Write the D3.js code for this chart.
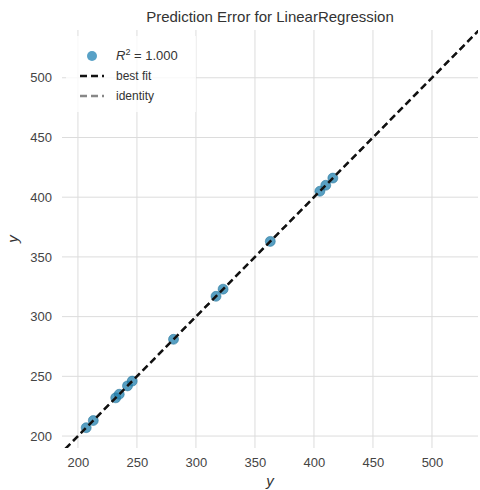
<!DOCTYPE html>
<html><head><meta charset="utf-8">
<script src="https://cdn.jsdelivr.net/npm/d3@7"></script>
<style>body{margin:0;background:#fff}text{font-family:"Liberation Sans",Arial,sans-serif}</style>
</head><body><div id="chart"></div>
<script>
const actual = [207, 213, 232, 235, 242, 246, 281, 317, 323, 363, 405, 410, 416];
const predicted = [207, 213, 232, 235, 242, 246, 281, 317, 323, 363, 405, 410, 416];
const ticks = [200, 250, 300, 350, 400, 450, 500];

const margin = { top: 30, right: 2, bottom: 42, left: 62 };
const width = 480 - margin.left - margin.right;
const height = 490 - margin.top - margin.bottom;

const root = d3.select("#chart").append("svg").attr("width", 480).attr("height", 490);
const svg = root.append("g").attr("transform", `translate(${margin.left},${margin.top})`);

const x = d3.scaleLinear().domain([186.5, 539]).range([0, width]);
const y = d3.scaleLinear().domain([190, 540]).range([height, 0]);

// grid
svg.selectAll(".gx").data(ticks).enter().append("line")
  .attr("x1", d => x(d)).attr("x2", d => x(d)).attr("y1", 0).attr("y2", height)
  .attr("stroke", "#dcdcdc").attr("stroke-width", 1);
svg.selectAll(".gy").data(ticks).enter().append("line")
  .attr("y1", d => y(d)).attr("y2", d => y(d)).attr("x1", 0).attr("x2", width)
  .attr("stroke", "#dcdcdc").attr("stroke-width", 1);

const ax = svg.append("g").attr("transform", `translate(0,${height})`)
  .call(d3.axisBottom(x).tickValues(ticks).tickSize(0).tickPadding(10));
const ay = svg.append("g").call(d3.axisLeft(y).tickValues(ticks).tickSize(0).tickPadding(10));
[ax, ay].forEach(a => {
  a.select(".domain").remove();
  a.selectAll("text").attr("fill", "#444").style("font-size", "13px");
});

svg.append("clipPath").attr("id", "clip").append("rect").attr("width", width).attr("height", height);

// points
svg.selectAll("circle").data(actual).enter().append("circle")
  .attr("cx", d => x(d)).attr("cy", (d, i) => y(predicted[i])).attr("r", 5)
  .attr("fill", "#1f7fae").attr("fill-opacity", 0.75)
  .attr("stroke", "#1f6f96").attr("stroke-opacity", 0.5);

const g = svg.append("g").attr("clip-path", "url(#clip)");
// identity
g.append("line").attr("x1", x(150)).attr("y1", y(150)).attr("x2", x(600)).attr("y2", y(600))
  .attr("stroke", "#888").attr("stroke-width", 2).attr("stroke-dasharray", "7,4");
// best fit
g.append("line").attr("x1", x(150)).attr("y1", y(150)).attr("x2", x(600)).attr("y2", y(600))
  .attr("stroke", "#111").attr("stroke-width", 2.5).attr("stroke-dasharray", "7,4");

// legend
const lg = svg.append("g").attr("transform", "translate(4,6)");
lg.append("rect").attr("width", 130).attr("height", 76).attr("fill", "#fff").attr("fill-opacity", 0.8);
lg.append("circle").attr("cx", 26).attr("cy", 20).attr("r", 5).attr("fill", "#2e8ab8").attr("fill-opacity", 0.8);
const r2 = lg.append("text").attr("x", 50).attr("y", 24).attr("fill", "#333").style("font-size", "13px");
r2.append("tspan").text("R").style("font-style", "italic");
r2.append("tspan").text("2").attr("dy", -5).style("font-size", "9px");
r2.append("tspan").text(" = 1.000").attr("dy", 5);
lg.append("line").attr("x1", 14).attr("x2", 38).attr("y1", 40).attr("y2", 40)
  .attr("stroke", "#111").attr("stroke-width", 2.5).attr("stroke-dasharray", "7,4");
lg.append("text").attr("x", 50).attr("y", 44).text("best fit").attr("fill", "#333").style("font-size", "12px");
lg.append("line").attr("x1", 14).attr("x2", 38).attr("y1", 60).attr("y2", 60)
  .attr("stroke", "#888").attr("stroke-width", 2.5).attr("stroke-dasharray", "7,4");
lg.append("text").attr("x", 50).attr("y", 64).text("identity").attr("fill", "#333").style("font-size", "12px");

root.append("text").attr("x", margin.left + width / 2).attr("y", 22).attr("text-anchor", "middle")
  .attr("fill", "#333").style("font-size", "15px").text("Prediction Error for LinearRegression");
root.append("text").attr("x", margin.left + width / 2).attr("y", 486).attr("text-anchor", "middle")
  .attr("fill", "#333").style("font-size", "15px").style("font-style", "italic").text("y");
root.append("text").attr("transform", `translate(18,${margin.top + height / 2}) rotate(-90)`)
  .attr("text-anchor", "middle").attr("fill", "#333").style("font-size", "15px").style("font-style", "italic").text("y");
</script></body></html>
